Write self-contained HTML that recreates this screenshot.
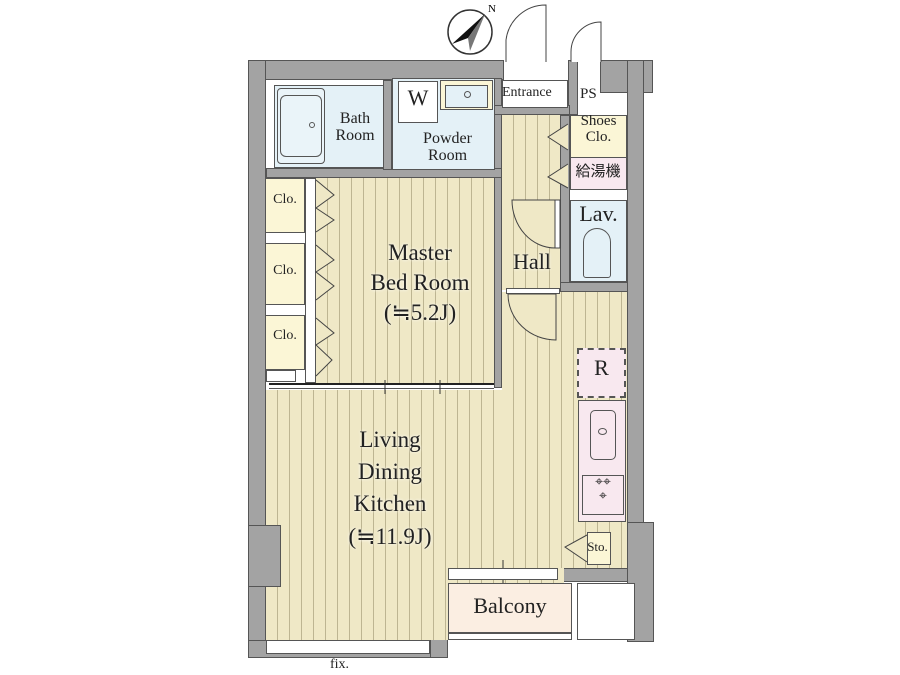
<!DOCTYPE html>
<html><head><meta charset="utf-8"><style>
body{margin:0;width:900px;height:675px;background:#fff;position:relative;overflow:hidden;font-family:"Liberation Serif","Noto Serif CJK SC",serif;color:#222}
div{position:absolute;box-sizing:border-box}
.w{background:#a3a3a3;border:1px solid #555}
.st{background:repeating-linear-gradient(90deg,#efe8c6 0,#efe8c6 11px,#bdb592 11px,#bdb592 12px);}
.blue{background:#e4f1f7;border:1px solid #555}
.yel{background:#fbf6d6;border:1px solid #555}
.pink{background:#f8e8ef;border:1px solid #555}
.t{text-align:center;line-height:1.05;color:#222}
</style></head><body>
<!-- outer walls -->
<div class="w" style="left:248px;top:60px;width:256px;height:20px"></div>
<div class="w" style="left:248px;top:60px;width:18px;height:598px"></div>
<div class="w" style="left:568px;top:60px;width:10px;height:55px"></div>
<div class="w" style="left:600px;top:60px;width:53px;height:33px"></div>
<div class="w" style="left:627px;top:60px;width:17px;height:565px"></div>
<div class="w" style="left:627px;top:522px;width:27px;height:120px"></div>
<div class="w" style="left:248px;top:640px;width:200px;height:18px"></div>
<div class="w" style="left:430px;top:568px;width:18px;height:90px"></div>
<div class="w" style="left:448px;top:568px;width:180px;height:14px"></div>
<div class="w" style="left:494px;top:78px;width:8px;height:310px"></div>
<div class="w" style="left:560px;top:115px;width:10px;height:175px"></div>
<div class="w" style="left:560px;top:282px;width:68px;height:10px"></div>
<div class="w" style="left:266px;top:168px;width:236px;height:10px"></div>
<div class="w" style="left:383px;top:80px;width:9px;height:90px"></div>
<div class="w" style="left:494px;top:105px;width:76px;height:10px"></div>
<!-- fix window -->
<div style="left:266px;top:640px;width:164px;height:14px;background:#fff;border:1px solid #555"></div>
<div style="left:330px;top:657px;font-size:14px">fix.</div>
<!-- entrance & PS -->
<div style="left:502px;top:80px;width:66px;height:28px;background:#fff;border:1px solid #555"></div>
<div style="left:502px;top:85px;font-size:14px">Entrance</div>
<div style="left:578px;top:78px;width:22px;height:30px;background:#fff"></div>
<div style="left:580px;top:86px;font-size:15px">PS</div>
<svg style="position:absolute;left:0;top:0" width="900" height="675">
<path d="M506 62 V40 A40 40 0 0 1 546 5 V62" fill="#fff" stroke="#444"/>
<path d="M571 62 V52 A30 30 0 0 1 601 22 V62" fill="#fff" stroke="#444"/>
<circle cx="470" cy="32" r="22" fill="#fff" stroke="#333" stroke-width="1.5"/>
<path d="M485 14 L452 44 L468 38 Z" fill="#111"/><path d="M485 14 L468 38 L470 51 Z" fill="#777"/>
<text x="488" y="12" font-size="11" font-family="Liberation Serif">N</text>
</svg>
<!-- bath -->
<div class="blue" style="left:274px;top:85px;width:110px;height:83px"></div>
<div style="left:277px;top:88px;width:48px;height:76px;border:1px solid #555;border-radius:4px;background:#eaf4f9"></div>
<div style="left:280px;top:95px;width:42px;height:62px;border:1px solid #555;border-radius:6px"></div>
<div style="left:309px;top:122px;width:6px;height:6px;border:1px solid #555;border-radius:50%"></div>
<div class="t" style="left:325px;top:111px;width:60px;font-size:16px">Bath<br>Room</div>
<!-- powder -->
<div class="blue" style="left:392px;top:78px;width:103px;height:92px"></div>
<div style="left:398px;top:81px;width:40px;height:42px;border:1px solid #555;background:#fff"></div>
<div class="t" style="left:398px;top:86px;width:40px;font-size:22px">W</div>
<div style="left:440px;top:80px;width:53px;height:30px;border:1px solid #555;background:#fbf6d6"></div>
<div style="left:445px;top:85px;width:43px;height:23px;border:1px solid #555;background:#e4f1f7"></div>
<div style="left:464px;top:91px;width:7px;height:7px;border:1px solid #555;border-radius:50%"></div>
<div class="t" style="left:405px;top:131px;width:85px;font-size:16px">Powder<br>Room</div>
<!-- master bed -->
<div class="st" style="left:316px;top:178px;width:178px;height:206px"></div>
<div class="t" style="left:340px;top:238px;width:160px;font-size:23px;line-height:1.3;text-shadow:0 0 3px #fff">Master<br>Bed Room<br>(≒5.2J)</div>
<!-- closets -->
<div class="yel" style="left:265px;top:178px;width:40px;height:55px"></div>
<div class="yel" style="left:265px;top:243px;width:40px;height:62px"></div>
<div class="yel" style="left:265px;top:315px;width:40px;height:55px"></div>
<div class="t" style="left:265px;top:193px;width:40px;font-size:14px">Clo.</div>
<div class="t" style="left:265px;top:264px;width:40px;font-size:14px">Clo.</div>
<div class="t" style="left:265px;top:329px;width:40px;font-size:14px">Clo.</div>
<div style="left:305px;top:178px;width:11px;height:205px;background:#fff;border:1px solid #555"></div>
<div style="left:266px;top:370px;width:30px;height:12px;background:#fff;border:1px solid #555"></div>
<div style="left:269px;top:383px;width:225px;height:6px;background:#fff;border-top:2px solid #222;border-bottom:1px solid #555"></div>
<!-- hall -->
<div class="st" style="left:502px;top:115px;width:58px;height:175px"></div>
<div class="t" style="left:502px;top:250px;width:60px;font-size:22px;text-shadow:0 0 3px #fff">Hall</div>
<div class="yel" style="left:570px;top:115px;width:57px;height:43px"></div>
<div class="t" style="left:570px;top:114px;width:57px;font-size:15px">Shoes<br>Clo.</div>
<div class="pink" style="left:570px;top:157px;width:57px;height:33px"></div>
<div class="t" style="left:568px;top:163px;width:60px;font-size:15px;font-family:'Noto Sans CJK JP',sans-serif">給湯機</div>
<div class="blue" style="left:570px;top:200px;width:57px;height:82px"></div>
<div class="t" style="left:570px;top:202px;width:57px;font-size:22px">Lav.</div>
<div style="left:583px;top:228px;width:28px;height:50px;border:1px solid #555;border-radius:14px 14px 3px 3px"></div>
<!-- LDK -->
<div class="st" style="left:266px;top:390px;width:298px;height:250px"></div>
<div class="st" style="left:502px;top:292px;width:125px;height:276px"></div>
<div class="w" style="left:248px;top:525px;width:33px;height:62px"></div>
<div style="left:506px;top:288px;width:54px;height:6px;background:#fff;border:1px solid #555"></div>
<svg style="position:absolute;left:0;top:0" width="900" height="675">
<path d="M508 294 H556 V340 A48 46 0 0 1 508 294 Z" fill="#efe8c6" stroke="#444"/>
<path d="M512 200 H555 V248 A43 48 0 0 1 512 200 Z" fill="#efe8c6" stroke="#444"/>
<rect x="555" y="200" width="5" height="48" fill="#fff" stroke="#444"/>
<g fill="#efe8c6" stroke="#444">
<path d="M568 124 L548 137 L568 150"/><path d="M568 164 L548 177 L568 188"/>
<path d="M316 180 L334 195 L316 208 L334 220 L316 232"/>
<path d="M316 245 L334 260 L316 272 L334 286 L316 300"/>
<path d="M316 318 L334 333 L316 345 L332 360 L316 376"/>
<path d="M587 535 L565 547 L587 562"/>
</g>
<line x1="385" y1="380" x2="385" y2="394" stroke="#333"/><line x1="440" y1="380" x2="440" y2="394" stroke="#333"/>
<line x1="503" y1="560" x2="503" y2="590" stroke="#333"/>
</svg>
<div class="t" style="left:320px;top:424px;width:140px;font-size:23px;line-height:1.4;text-shadow:0 0 3px #fff">Living<br>Dining<br>Kitchen<br>(≒11.9J)</div>
<!-- kitchen -->
<div class="pink" style="left:577px;top:348px;width:49px;height:50px;border:2px dashed #555"></div>
<div class="t" style="left:577px;top:356px;width:49px;font-size:22px">R</div>
<div class="pink" style="left:578px;top:400px;width:48px;height:122px"></div>
<div style="left:590px;top:410px;width:26px;height:50px;border:1px solid #555;border-radius:5px"></div>
<div style="left:598px;top:428px;width:9px;height:7px;border:1px solid #555;border-radius:50%"></div>
<div style="left:582px;top:475px;width:42px;height:40px;border:1px solid #555;font-size:14px;line-height:14px;text-align:center">⌖⌖<br>⌖</div>
<div class="yel" style="left:587px;top:532px;width:24px;height:33px"></div>
<div class="t" style="left:580px;top:540px;width:35px;font-size:13px">Sto.</div>
<!-- balcony -->
<div style="left:448px;top:568px;width:110px;height:12px;background:#fff;border:1px solid #555"></div>
<div style="left:448px;top:583px;width:124px;height:50px;background:#fbeee2;border:1px solid #555"></div>
<div class="t" style="left:448px;top:594px;width:124px;font-size:22px">Balcony</div>
<div style="left:577px;top:583px;width:58px;height:57px;background:#fff;border:1px solid #555"></div>
<div style="left:448px;top:633px;width:124px;height:7px;background:#fff;border:1px solid #555"></div>
</body></html>
